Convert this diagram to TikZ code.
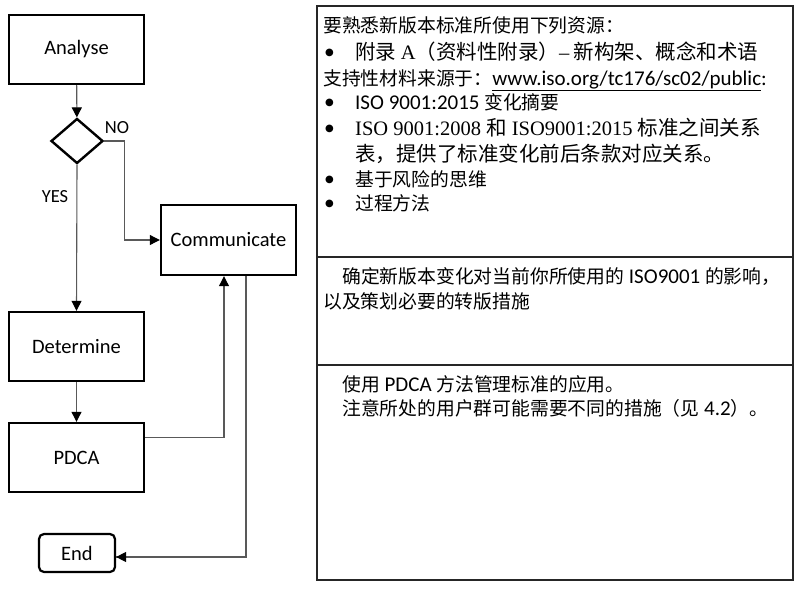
\documentclass[tikz,border=0pt]{standalone}
\usepackage{fontspec}
\setmainfont{Carlito}
\newfontfamily\cjkfam{Noto Sans CJK SC}
\newfontfamily\serfam{Liberation Serif}
\newfontfamily\symfam{DejaVu Sans}
\newcommand\cj{\cjkfam\fontsize{18.8}{23}\selectfont}
\newcommand\cjb{\cjkfam\fontsize{20.5}{24}\selectfont}
\newcommand\ser{\serfam\fontsize{20.5}{24}\selectfont}
\newcommand\bul{\symfam\fontsize{10}{10}\selectfont ●}
\usetikzlibrary{shapes.geometric,arrows.meta,calc}
\begin{document}
\begin{tikzpicture}[x=1pt,y=-1pt,
  box/.style={draw=black, line width=2.4pt, minimum width=135pt, minimum height=69pt, inner sep=0pt, font=\fontsize{20.5}{24}\selectfont},
  dia/.style={draw=black, line width=2.4pt, diamond, minimum width=52pt, minimum height=45pt, inner sep=0pt},
  endbox/.style={draw=black, line width=2.2pt, rounded corners=5pt, minimum width=76pt, minimum height=38pt, inner sep=0pt, font=\fontsize{20.5}{24}\selectfont},
  lab/.style={inner sep=0pt, font=\fontsize{18.5}{22}\selectfont},
  conn/.style={draw=black!65, line width=1.1pt, -{Triangle[length=10pt,width=10pt,color=black]}},
  tab/.style={draw=black!85, line width=1.5pt},
  txt/.style={anchor=base west, inner sep=0pt, font=\fontsize{21}{24}\selectfont},
  bulpos/.style={anchor=base west, inner sep=0pt},
]
\useasboundingbox (0,0) rectangle (800,589);
\fill[white] (0,0) rectangle (800,589);

% flowchart
\node[box] (analyse) at (76.5,49.5) {Analyse};
\node[dia] (dec) at (77,141) {};
\node[box, minimum height=70pt] (comm) at (228.5,240) {Communicate};
\node[box] (det) at (76.5,346.5) {Determine};
\node[box] (pdca) at (76.5,457.5) {PDCA};
\node[endbox] (fin) at (77,553) {End};
\node[lab] (no) at (117,128) {NO};
\node[lab] (yes) at (55,197) {YES};

\draw[conn] (analyse) -- (dec);
\draw[conn] (dec.east) -- ++(20,0) |- (comm.west);
\draw[conn] (dec.south) -- (det.north);
\draw[conn] (det) -- (pdca);
\coordinate (pout) at ($(pdca.north east)!0.22!(pdca.south east)$);
\coordinate (cin) at ($(comm.south)+(-4.5,0)$);
\coordinate (cout) at ($(comm.south)+(17.5,0)$);
\coordinate (fin in) at ($(fin.east)+(0,4)$);
\draw[conn] (pout) -| (cin);
\draw[conn, -] (cout) |- (fin in);
\draw[conn] ($(fin in)+(10,0)$) -- (fin in);

% table
\draw[tab] (317,6) rectangle (793,580);
\draw[tab] (317,257) -- (793,257);
\draw[tab] (317,365) -- (793,365);

% cell 1
\node[txt] (l1) at (323,32) {\cj 要熟悉新版本标准所使用下列资源：};
\node[bulpos] (b2) at (325,55.5) {\bul};
\node[txt] (l2) at (355,59) {\cjb 附录\ {\ser A}（资料性附录）{\ser –} 新构架、概念和术语};
\node[txt] (l3) at (323,85) {{\cj 支持性材料来源于：}\underline{www.iso.org/tc176/sc02/public}:};
\node[bulpos] (b4) at (325,105.5) {\bul};
\node[txt] (l4) at (355,109) {ISO 9001:2015 {\cj 变化摘要}};
\node[bulpos] (b5) at (325,131.5) {\bul};
\node[txt] (l5) at (355,135) {{\ser ISO 9001:2008 }{\cjb 和}{\ser\ ISO9001:2015 }{\cjb 标准之间关系}};
\node[txt] (l6) at (355,161) {\cjb 表，提供了标准变化前后条款对应关系。};
\node[bulpos] (b7) at (325,182.5) {\bul};
\node[txt] (l7) at (355,186) {\cj 基于风险的思维};
\node[bulpos] (b8) at (325,206.5) {\bul};
\node[txt] (l8) at (355,210) {\cj 过程方法};

% cell 2
\node[txt] (m1) at (342,283) {{\cj 确定新版本变化对当前你所使用的}\ ISO9001\ {\cj 的影响，}};
\node[txt] (m2) at (323,308) {\cj 以及策划必要的转版措施};

% cell 3
\node[txt] (n1) at (342,391) {{\cj 使用}\ PDCA\ {\cj 方法管理标准的应用。}};
\node[txt] (n2) at (342,415) {{\cj 注意所处的用户群可能需要不同的措施（见}\ 4.2{\cj ）。}};
\end{tikzpicture}
\end{document}
